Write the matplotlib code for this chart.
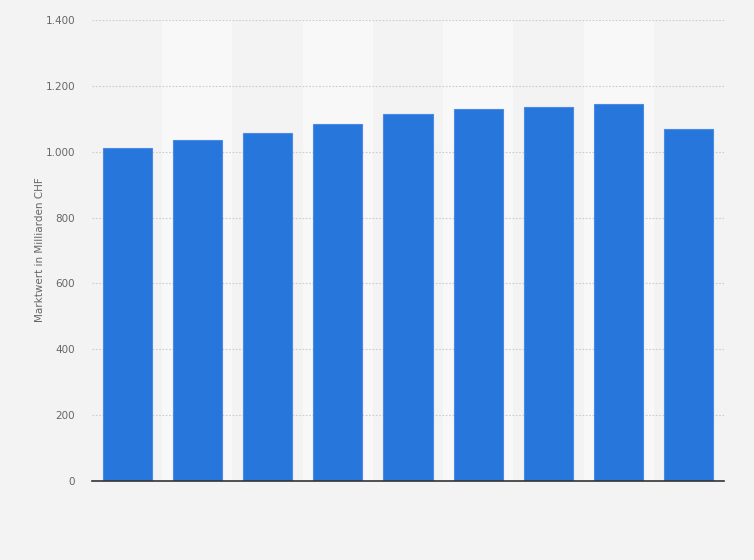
import matplotlib
matplotlib.use("Agg")
import matplotlib.pyplot as plt
from matplotlib.ticker import FuncFormatter

categories = ["1", "2", "3", "4", "5", "6", "7", "8", "9"]
values = [1011, 1035, 1057, 1083, 1114, 1130, 1136, 1145, 1069]
y_ticks = [0, 200, 400, 600, 800, 1000, 1200, 1400]
y_label = "Marktwert in Milliarden CHF"

fig = plt.figure(figsize=(7.54, 5.60), dpi=100)
fig.patch.set_facecolor("#f3f3f3")
ax = fig.add_axes([92/754, 79/560, (724-92)/754, 461/560])
ax.set_facecolor("#f3f3f3")

x = list(range(len(categories)))
for i in x:
    if i % 2 == 1:
        ax.axvspan(i - 0.5, i + 0.5, color="#f8f8f8", zorder=0, lw=0)

ax.bar(x, values, width=0.70, color="#2776db", edgecolor="#4a8ae6", linewidth=0.8, zorder=3)

ax.set_xlim(-0.5, len(categories) - 0.5)
ax.set_ylim(0, 1400)
ax.set_yticks(y_ticks)
ax.yaxis.set_major_formatter(FuncFormatter(lambda v, p: f"{int(v):,}".replace(",", ".")))
ax.grid(axis="y", color="#cccccc", linestyle=(0, (1.5, 1.5)), linewidth=0.8, zorder=1)
ax.set_axisbelow(True)
ax.set_xticks(x)
ax.set_xticklabels([""] * len(categories))
ax.tick_params(axis="x", length=0)
ax.tick_params(axis="y", length=0, labelsize=7.5, labelcolor="#666666", pad=12)
for s in ["top", "right", "left"]:
    ax.spines[s].set_visible(False)
ax.spines["bottom"].set_color("#333333")
ax.spines["bottom"].set_linewidth(1.2)
ax.spines["bottom"].set_zorder(4)

fig.text(40/754, 1 - 250/560, y_label, rotation=90, ha="center", va="center",
         fontsize=7.5, color="#666666")

fig.savefig("out.png", dpi=100, facecolor=fig.get_facecolor())
